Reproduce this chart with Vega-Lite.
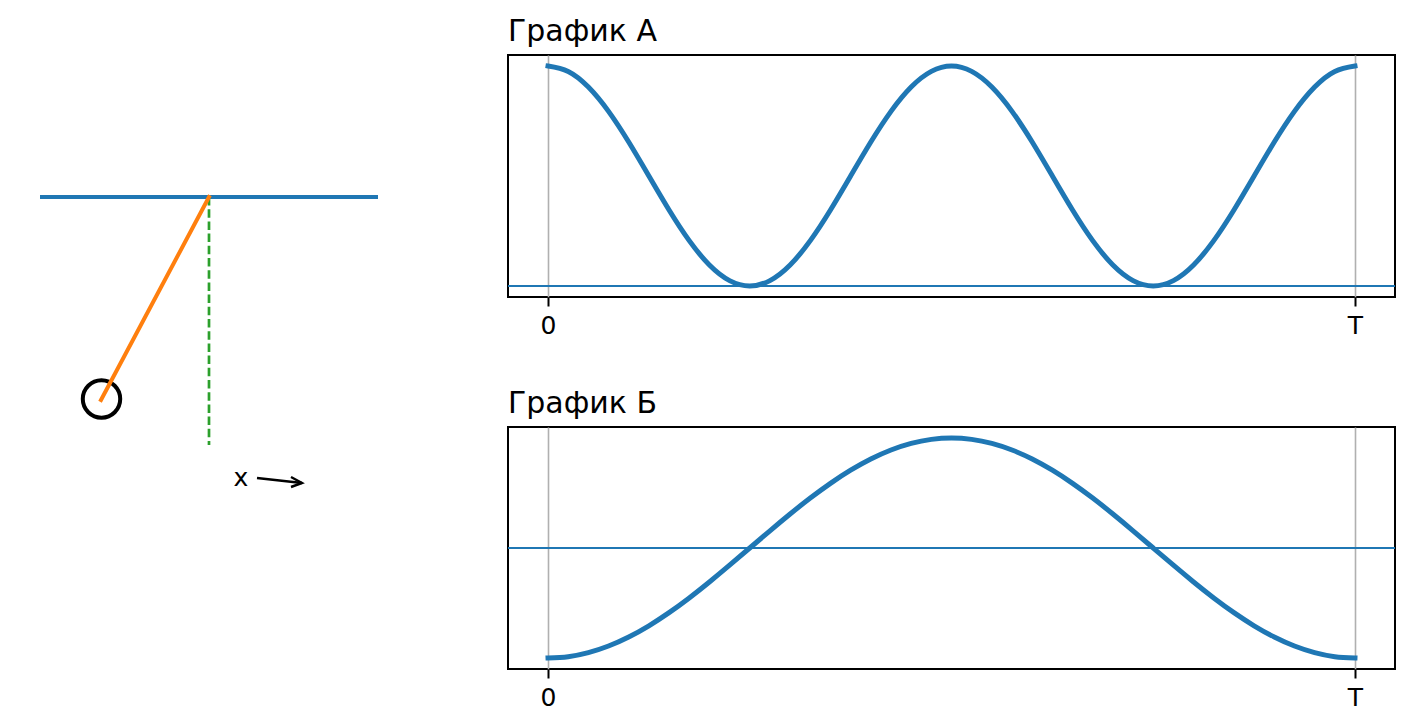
{
  "$schema": "https://vega.github.io/schema/vega-lite/v6.json",
  "padding": {"left": 0, "top": 16, "right": 0, "bottom": 0},
  "background": "white",
  "bounds": "flush",
  "spacing": 40,
  "datasets": {
    "curves": [
      {"t": 0, "a": 1, "b": -1},
      {"t": 0.025, "a": 0.9755, "b": -0.9877},
      {"t": 0.05, "a": 0.9045, "b": -0.9511},
      {"t": 0.075, "a": 0.7939, "b": -0.891},
      {"t": 0.1, "a": 0.6545, "b": -0.809},
      {"t": 0.125, "a": 0.5, "b": -0.7071},
      {"t": 0.15, "a": 0.3455, "b": -0.5878},
      {"t": 0.175, "a": 0.2061, "b": -0.454},
      {"t": 0.2, "a": 0.0955, "b": -0.309},
      {"t": 0.225, "a": 0.0245, "b": -0.1564},
      {"t": 0.25, "a": 0, "b": 0},
      {"t": 0.275, "a": 0.0245, "b": 0.1564},
      {"t": 0.3, "a": 0.0955, "b": 0.309},
      {"t": 0.325, "a": 0.2061, "b": 0.454},
      {"t": 0.35, "a": 0.3455, "b": 0.5878},
      {"t": 0.375, "a": 0.5, "b": 0.7071},
      {"t": 0.4, "a": 0.6545, "b": 0.809},
      {"t": 0.425, "a": 0.7939, "b": 0.891},
      {"t": 0.45, "a": 0.9045, "b": 0.9511},
      {"t": 0.475, "a": 0.9755, "b": 0.9877},
      {"t": 0.5, "a": 1, "b": 1},
      {"t": 0.525, "a": 0.9755, "b": 0.9877},
      {"t": 0.55, "a": 0.9045, "b": 0.9511},
      {"t": 0.575, "a": 0.7939, "b": 0.891},
      {"t": 0.6, "a": 0.6545, "b": 0.809},
      {"t": 0.625, "a": 0.5, "b": 0.7071},
      {"t": 0.65, "a": 0.3455, "b": 0.5878},
      {"t": 0.675, "a": 0.2061, "b": 0.454},
      {"t": 0.7, "a": 0.0955, "b": 0.309},
      {"t": 0.725, "a": 0.0245, "b": 0.1564},
      {"t": 0.75, "a": 0, "b": 0},
      {"t": 0.775, "a": 0.0245, "b": -0.1564},
      {"t": 0.8, "a": 0.0955, "b": -0.309},
      {"t": 0.825, "a": 0.2061, "b": -0.454},
      {"t": 0.85, "a": 0.3455, "b": -0.5878},
      {"t": 0.875, "a": 0.5, "b": -0.7071},
      {"t": 0.9, "a": 0.6545, "b": -0.809},
      {"t": 0.925, "a": 0.7939, "b": -0.891},
      {"t": 0.95, "a": 0.9045, "b": -0.9511},
      {"t": 0.975, "a": 0.9755, "b": -0.9877},
      {"t": 1, "a": 1, "b": -1}
    ],
    "beam": [{"x": -1.69, "y": 0}, {"x": 1.69, "y": 0}],
    "rod": [{"x": 0, "y": 0}, {"x": -1.08, "y": -2.03}],
    "plumb": [{"x": 0, "y": 0}, {"x": 0, "y": -2.48}],
    "bob": [{"x": -1.075, "y": -2.02}],
    "label": [{"x": 0.32, "y": -2.81, "text": "x"}],
    "arrow": [
      {"part": "shaft", "x": 0.48, "y": -2.81, "step": 1},
      {"part": "shaft", "x": 0.93, "y": -2.86, "step": 2},
      {"part": "head", "x": 0.82, "y": -2.8, "step": 1},
      {"part": "head", "x": 0.93, "y": -2.86, "step": 2},
      {"part": "head", "x": 0.82, "y": -2.9, "step": 3}
    ]
  },
  "hconcat": [
    {
      "width": 468,
      "height": 614,
      "view": {"stroke": null},
      "encoding": {
        "x": {"field": "x", "type": "quantitative", "axis": null, "scale": {"domain": [-2.09, 2.59], "nice": false, "zero": false}},
        "y": {"field": "y", "type": "quantitative", "axis": null, "scale": {"domain": [-4.72, 1.42], "nice": false, "zero": false}}
      },
      "layer": [
        {"data": {"name": "beam"}, "mark": {"type": "line", "color": "#1f77b4", "strokeWidth": 4}},
        {"data": {"name": "plumb"}, "mark": {"type": "line", "color": "#2ca02c", "strokeWidth": 2.7, "strokeDash": [8.5, 3.7]}},
        {"data": {"name": "bob"}, "mark": {"type": "point", "shape": "circle", "filled": false, "color": "black", "strokeWidth": 4, "size": 1400, "opacity": 1}},
        {"data": {"name": "rod"}, "mark": {"type": "line", "color": "#ff7f0e", "strokeWidth": 4, "strokeCap": "square"}},
        {"data": {"name": "label"}, "mark": {"type": "text", "font": "DejaVu Sans", "fontSize": 25, "color": "black", "align": "center", "baseline": "middle"}, "encoding": {"text": {"field": "text"}}},
        {"data": {"name": "arrow"}, "mark": {"type": "line", "color": "black", "strokeWidth": 2.4}, "encoding": {"detail": {"field": "part"}, "order": {"field": "step"}}}
      ]
    },
    {
      "bounds": "flush",
      "spacing": 130,
      "vconcat": [
        {
          "width": 887,
          "height": 242,
          "title": {"text": "График А", "anchor": "start", "frame": "group", "font": "DejaVu Sans", "fontSize": 30, "fontWeight": "normal", "color": "black", "offset": 8},
          "view": {"stroke": "black", "strokeWidth": 2},
          "data": {"name": "curves"},
          "encoding": {
            "x": {"field": "t", "type": "quantitative", "title": null, "scale": {"domain": [-0.0496, 1.0496], "nice": false, "zero": false},
              "axis": {"values": [0, 1], "labelExpr": "datum.value == 0 ? '0' : 'T'", "domain": false, "grid": true, "gridColor": "#b0b0b0", "gridWidth": 1.6, "tickColor": "black", "tickWidth": 2, "tickSize": 9, "labelFont": "DejaVu Sans", "labelFontSize": 25, "labelColor": "black", "labelPadding": 7, "labelAngle": 0, "labelFlush": false}}
          },
          "layer": [
            {"mark": {"type": "line", "color": "#1f77b4", "strokeWidth": 5, "strokeCap": "square", "interpolate": "natural"}, "encoding": {"y": {"field": "a", "type": "quantitative", "axis": null, "scale": {"domain": [-0.05, 1.05], "nice": false, "zero": false}}}},
            {"mark": {"type": "rule", "color": "#1f77b4", "strokeWidth": 1.8}, "encoding": {"x": {"datum": -0.0496}, "x2": {"datum": 1.0496}, "y": {"datum": 0}}}
          ]
        },
        {
          "width": 887,
          "height": 242,
          "title": {"text": "График Б", "anchor": "start", "frame": "group", "font": "DejaVu Sans", "fontSize": 30, "fontWeight": "normal", "color": "black", "offset": 8},
          "view": {"stroke": "black", "strokeWidth": 2},
          "data": {"name": "curves"},
          "encoding": {
            "x": {"field": "t", "type": "quantitative", "title": null, "scale": {"domain": [-0.0496, 1.0496], "nice": false, "zero": false},
              "axis": {"values": [0, 1], "labelExpr": "datum.value == 0 ? '0' : 'T'", "domain": false, "grid": true, "gridColor": "#b0b0b0", "gridWidth": 1.6, "tickColor": "black", "tickWidth": 2, "tickSize": 9, "labelFont": "DejaVu Sans", "labelFontSize": 25, "labelColor": "black", "labelPadding": 7, "labelAngle": 0, "labelFlush": false}}
          },
          "layer": [
            {"mark": {"type": "line", "color": "#1f77b4", "strokeWidth": 5, "strokeCap": "square", "interpolate": "natural"}, "encoding": {"y": {"field": "b", "type": "quantitative", "axis": null, "scale": {"domain": [-1.1, 1.1], "nice": false, "zero": false}}}},
            {"mark": {"type": "rule", "color": "#1f77b4", "strokeWidth": 1.8}, "encoding": {"x": {"datum": -0.0496}, "x2": {"datum": 1.0496}, "y": {"datum": 0}}}
          ]
        }
      ]
    }
  ]
}
